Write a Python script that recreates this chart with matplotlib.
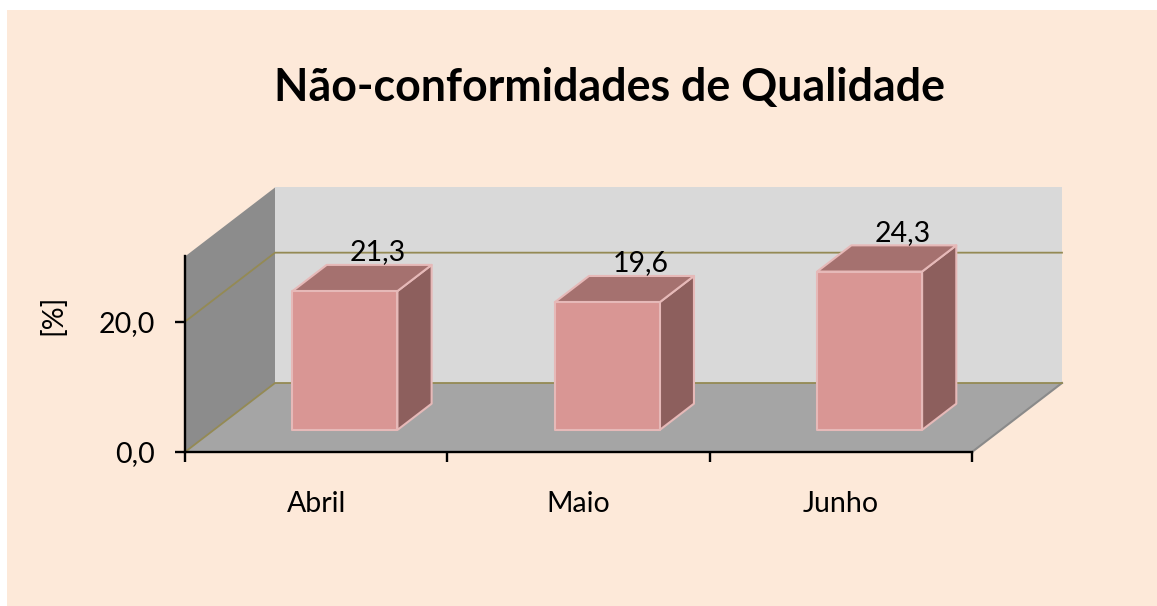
import matplotlib
matplotlib.use('Agg')
import matplotlib.pyplot as plt
from matplotlib.patches import Polygon, Rectangle

# dados
meses = ['Abril', 'Maio', 'Junho']
valores = [21.3, 19.6, 24.3]
rotulos = ['21,3', '19,6', '24,3']
y_ticks = [0, 20]
y_tick_labels = ['0,0', '20,0']
titulo = 'Não-conformidades de Qualidade'

plt.rcParams['font.family'] = ['Lato', 'DejaVu Sans']

W, H = 1157, 606
fig = plt.figure(figsize=(W / 100, H / 100), dpi=100)
fig.patch.set_facecolor('white')
fig.add_artist(Rectangle((7 / W, 0), 1 - 7 / W, (H - 10) / H, transform=fig.transFigure,
                         facecolor='#fde9d9', edgecolor='none', zorder=0))

# plano frontal do grafico 3D
ax_w, ax_h = 787, 195.5
ax = fig.add_axes([185 / W, 154 / H, ax_w / W, ax_h / H])
ax.set_xlim(0, 3)
ax.set_ylim(0, 30)
ax.patch.set_visible(False)

# deslocamento de profundidade (em unidades de dados)
DX = 90 / (ax_w / 3)
DY = 69 / (ax_h / 30)


def proj(x, y, d):
    return (x + d * DX, y + d * DY)


ymax = 30
n = len(meses)
paredes = [
    ([proj(0, 0, 0), proj(0, ymax, 0), proj(0, ymax, 1), proj(0, 0, 1)], '#8c8c8c'),
    ([proj(0, 0, 1), proj(n, 0, 1), proj(n, ymax, 1), proj(0, ymax, 1)], '#d9d9d9'),
    ([proj(0, 0, 0), proj(n, 0, 0), proj(n, 0, 1), proj(0, 0, 1)], '#a5a5a5'),
]
for pts, cor in paredes:
    ax.add_patch(Polygon(pts, closed=True, facecolor=cor, edgecolor='none',
                         zorder=1, clip_on=False))

# borda direita do piso
p0, p1 = proj(n, 0, 0), proj(n, 0, 1)
ax.plot([p0[0], p1[0]], [p0[1], p1[1]], color='#8a8a8a', lw=1.5, zorder=1.2, clip_on=False)

# linhas de grade
for v in y_ticks:
    pts = [proj(0, v, 0), proj(0, v, 1), proj(n, v, 1)]
    ax.plot([p[0] for p in pts], [p[1] for p in pts], color='#948a54', lw=1.3,
            zorder=1.5, clip_on=False)

# barras
f0, f1 = 0.32, 0.70
largura = 0.4
for i, v in enumerate(valores):
    x0 = i + 0.5 - largura / 2
    x1 = i + 0.5 + largura / 2
    frente = [proj(x0, 0, f0), proj(x1, 0, f0), proj(x1, v, f0), proj(x0, v, f0)]
    lado = [proj(x1, 0, f0), proj(x1, 0, f1), proj(x1, v, f1), proj(x1, v, f0)]
    topo = [proj(x0, v, f0), proj(x1, v, f0), proj(x1, v, f1), proj(x0, v, f1)]
    for pts, cor in [(lado, '#8d5f5d'), (topo, '#a5716f'), (frente, '#d99694')]:
        ax.add_patch(Polygon(pts, closed=True, facecolor=cor, edgecolor='#e6b9b8',
                             lw=1.5, joinstyle='round', zorder=3, clip_on=False))
    ax.annotate(rotulos[i], xy=proj(i + 0.5, v, f0), xytext=(33 * 0.72, 31 * 0.72),
                textcoords='offset points', ha='center', va='baseline',
                fontsize=20.5, color='black', zorder=4)

# eixos
for s in ['top', 'right']:
    ax.spines[s].set_visible(False)
for s in ['left', 'bottom']:
    ax.spines[s].set_linewidth(1.7)
    ax.spines[s].set_color('black')
    ax.spines[s].set_zorder(2.5)

ax.set_yticks(y_ticks)
ax.set_yticklabels(y_tick_labels, fontsize=20.5)
ax.tick_params(axis='y', direction='out', length=7.2, width=1.7, pad=14.4)

ax.set_xticks(range(n + 1))
ax.set_xticklabels([''] * (n + 1))
ax.set_xticks([i + 0.5 for i in range(n)], minor=True)
ax.set_xticklabels(meses, minor=True, fontsize=20.5)
ax.tick_params(axis='x', which='major', direction='out', length=7.2, width=1.7)
ax.tick_params(axis='x', which='minor', length=0, pad=28)

ax.text(-0.168, 0.70, '[%]', transform=ax.transAxes, rotation=90,
        ha='center', va='center', fontsize=20.5)

fig.text(610 / W, (H - 101) / H, titulo, ha='center', va='baseline',
         fontsize=32.2, fontweight='bold')

fig.savefig('out.png', dpi=100, facecolor=fig.get_facecolor())
